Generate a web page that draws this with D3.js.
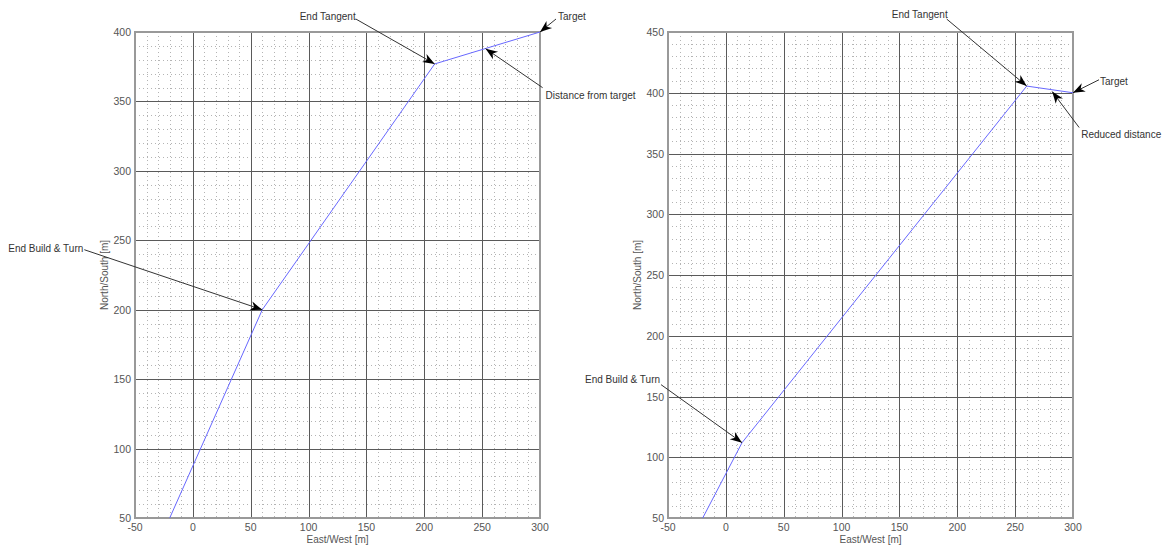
<!DOCTYPE html>
<html>
<head>
<meta charset="utf-8">
<script src="https://cdn.jsdelivr.net/npm/d3@7"></script>
<style>
  html, body { margin: 0; padding: 0; background: #fff; }
  svg { display: block; }
  text { font-family: "Liberation Sans", Arial, sans-serif; }
</style>
</head>
<body>
<svg id="chart" width="1166" height="546"></svg>
<script>
// Well path plan views: original plan (left) and revised plan (right)
const eastTicks = [-50, 0, 50, 100, 150, 200, 250, 300];
const northTicksLeft = [50, 100, 150, 200, 250, 300, 350, 400];
const northTicksRight = [50, 100, 150, 200, 250, 300, 350, 400, 450];

const leftEast = [-20, 60, 209, 300];
const leftNorth = [50, 200, 377, 400];

const rightEast = [-20, 14, 260, 300];
const rightNorth = [50, 112, 405.5, 400];

const leftNotes = ["End Tangent", "Target", "Distance from target", "End Build & Turn"];
const leftNoteEast = [209, 300, 253, 60];
const leftNoteNorth = [377, 400, 388, 200];

const rightNotes = ["End Tangent", "Target", "Reduced distance", "End Build & Turn"];
const rightNoteEast = [260, 300, 282, 14];
const rightNoteNorth = [405.5, 400, 401, 112];

const xTitle = "East/West [m]";
const yTitle = "North/South [m]";

// label placement relative to the arrow tip: [textDx, textDy, anchor, lineDx, lineDy]
const leftNoteLayout = [
  [-79, -47, "end", -79, -45],
  [18, -16, "start", 16, -13],
  [60, 47, "start", 57, 39],
  [-179, -61, "end", -178, -60]
];
const rightNoteLayout = [
  [-79, -72, "end", -80, -67],
  [27, -11, "start", 26, -13],
  [29, 43, "start", 27, 36],
  [-82, -63, "end", -81, -58]
];

const svg = d3.select("#chart");

function drawPanel(cfg) {
  const g = svg.append("g");
  const x = d3.scaleLinear().domain([-50, 300]).range([cfg.x0, cfg.x1]);
  const y = d3.scaleLinear().domain([50, cfg.yMax]).range([cfg.y1, cfg.y0]);

  // minor grid every 10 m
  const minorX = d3.range(-40, 300, 10).filter(v => v % 50 !== 0);
  const minorY = d3.range(60, cfg.yMax, 10).filter(v => v % 50 !== 0);
  g.selectAll(".mx").data(minorX).enter().append("line")
    .attr("x1", d => Math.round(x(d)) + 0.5).attr("x2", d => Math.round(x(d)) + 0.5)
    .attr("y1", cfg.y0).attr("y2", cfg.y1)
    .attr("stroke", "#b4b4b4").attr("stroke-width", 1).attr("stroke-dasharray", "1,3");
  g.selectAll(".my").data(minorY).enter().append("line")
    .attr("y1", d => Math.round(y(d)) + 0.5).attr("y2", d => Math.round(y(d)) + 0.5)
    .attr("x1", cfg.x0).attr("x2", cfg.x1)
    .attr("stroke", "#b4b4b4").attr("stroke-width", 1).attr("stroke-dasharray", "1,3");

  // major grid every 50 m
  g.selectAll(".Mx").data(eastTicks.slice(1, -1)).enter().append("line")
    .attr("x1", d => Math.round(x(d)) + 0.5).attr("x2", d => Math.round(x(d)) + 0.5)
    .attr("y1", cfg.y0).attr("y2", cfg.y1)
    .attr("stroke", "#5a5a5a").attr("stroke-width", 1);
  g.selectAll(".My").data(cfg.yTicks.slice(1, -1)).enter().append("line")
    .attr("y1", d => Math.round(y(d)) + 0.5).attr("y2", d => Math.round(y(d)) + 0.5)
    .attr("x1", cfg.x0).attr("x2", cfg.x1)
    .attr("stroke", "#5a5a5a").attr("stroke-width", 1);

  // frame
  g.append("rect")
    .attr("x", cfg.x0).attr("y", cfg.y0)
    .attr("width", cfg.x1 - cfg.x0).attr("height", cfg.y1 - cfg.y0)
    .attr("fill", "none").attr("stroke", "#999").attr("stroke-width", 2);

  // tick labels
  g.selectAll(".xl").data(eastTicks).enter().append("text")
    .attr("x", d => x(d)).attr("y", cfg.y1 + 13)
    .attr("text-anchor", "middle").attr("font-size", "10.5px").attr("fill", "#555")
    .text(d => d);
  g.selectAll(".yl").data(cfg.yTicks).enter().append("text")
    .attr("x", cfg.x0 - 4).attr("y", d => y(d) + 4)
    .attr("text-anchor", "end").attr("font-size", "10.5px").attr("fill", "#555")
    .text(d => d);

  // axis titles
  g.append("text")
    .attr("x", (cfg.x0 + cfg.x1) / 2).attr("y", cfg.y1 + 25)
    .attr("text-anchor", "middle").attr("font-size", "10px").attr("fill", "#555")
    .text(xTitle);
  g.append("text")
    .attr("transform", `translate(${cfg.x0 - 27},${(cfg.y0 + cfg.y1) / 2}) rotate(-90)`)
    .attr("text-anchor", "middle").attr("font-size", "10px").attr("fill", "#555")
    .text(yTitle);

  // well path
  const pts = cfg.east.map((e, i) => [e, cfg.north[i]]);
  g.append("path")
    .datum(pts)
    .attr("d", d3.line().x(d => x(d[0])).y(d => y(d[1])))
    .attr("fill", "none").attr("stroke", "#6868ff").attr("stroke-width", 1);

  // annotations with arrows
  cfg.notes.forEach((label, i) => {
    const tx = x(cfg.noteEast[i]);
    const ty = y(cfg.noteNorth[i]);
    const [tdx, tdy, anchor, ldx, ldy] = cfg.layout[i];
    const sx = tx + ldx, sy = ty + ldy;
    g.append("line")
      .attr("x1", sx).attr("y1", sy).attr("x2", tx).attr("y2", ty)
      .attr("stroke", "#333").attr("stroke-width", 1);
    const ang = Math.atan2(ty - sy, tx - sx) * 180 / Math.PI;
    g.append("path")
      .attr("d", "M0,0 L-12,-4.5 L-8.5,0 L-12,4.5 Z")
      .attr("transform", `translate(${tx},${ty}) rotate(${ang})`)
      .attr("fill", "#000");
    g.append("text")
      .attr("x", tx + tdx).attr("y", ty + tdy + 3.5)
      .attr("text-anchor", anchor).attr("font-size", "10px").attr("fill", "#333")
      .text(label);
  });
}

drawPanel({
  x0: 135, x1: 540, y0: 32, y1: 518, yMax: 400, yTicks: northTicksLeft,
  east: leftEast, north: leftNorth,
  notes: leftNotes, noteEast: leftNoteEast, noteNorth: leftNoteNorth, layout: leftNoteLayout
});
drawPanel({
  x0: 668, x1: 1073, y0: 32, y1: 518, yMax: 450, yTicks: northTicksRight,
  east: rightEast, north: rightNorth,
  notes: rightNotes, noteEast: rightNoteEast, noteNorth: rightNoteNorth, layout: rightNoteLayout
});
</script>
</body>
</html>
